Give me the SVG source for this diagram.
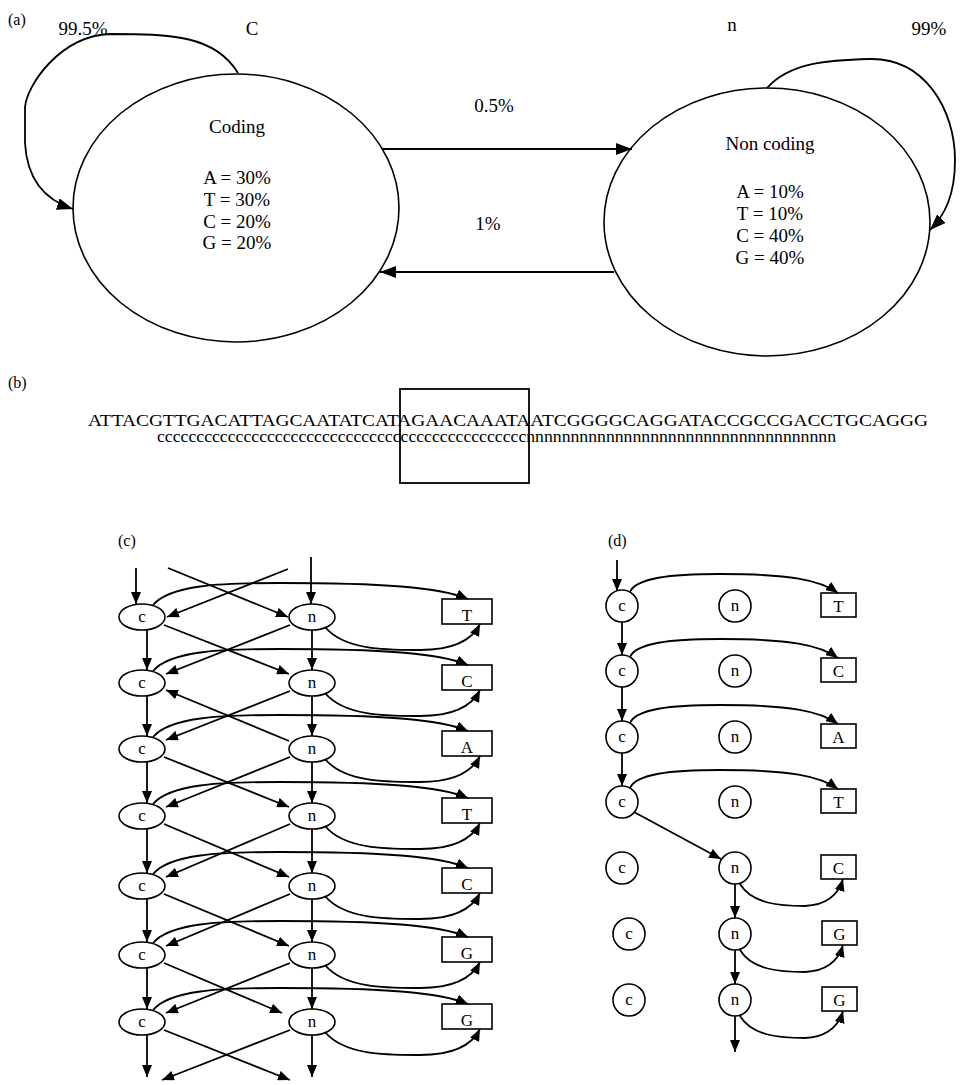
<svg xmlns="http://www.w3.org/2000/svg" width="960" height="1085" viewBox="0 0 960 1085">
<defs>
<style>
text{font-family:"Liberation Serif","Times New Roman",serif;fill:#000}
.lb{font-size:16px}
.t{font-size:19px;text-anchor:middle}
.s{font-size:17px;text-anchor:middle}
.nd{fill:#fff;stroke:#000;stroke-width:1.6}
.ln{fill:none;stroke:#000;stroke-width:1.8}
.la{marker-end:url(#A)}
.ca{marker-end:url(#a)}
</style>
<marker id="A" viewBox="0 0 16 12" refX="16" refY="6" markerWidth="16" markerHeight="12" markerUnits="userSpaceOnUse" orient="auto"><path d="M0,0L16,6L0,12z"/></marker>
<marker id="a" viewBox="0 0 12 10" refX="12" refY="5" markerWidth="12" markerHeight="10" markerUnits="userSpaceOnUse" orient="auto"><path d="M0,0L12,5L0,10z"/></marker>
</defs>
<rect width="960" height="1085" fill="#fff"/>

<!-- Part (a) -->
<text class="lb" x="8" y="25">(a)</text>
<g id="a-coding">
<ellipse class="nd" cx="236" cy="208" rx="163" ry="134"/>
<text class="t" x="237" y="133">Coding</text>
<text class="t" x="237" y="184">A = 30%</text>
<text class="t" x="237" y="206">T = 30%</text>
<text class="t" x="237" y="228">C = 20%</text>
<text class="t" x="237" y="249">G = 20%</text>
</g>
<g id="a-noncoding">
<ellipse class="nd" cx="767" cy="222" rx="163" ry="134"/>
<text class="t" x="770" y="150">Non coding</text>
<text class="t" x="770" y="198">A = 10%</text>
<text class="t" x="770" y="220">T = 10%</text>
<text class="t" x="770" y="242">C = 40%</text>
<text class="t" x="770" y="264">G = 40%</text>
</g>
<g id="a-connectors">
<path class="ln la" d="M238,73 C215,35 170,34 110,34 C60,36 27,85 25,107 L25,143 C27,180 45,200 73,209"/>
<path class="ln la" d="M767,88 C790,62 830,60 870,59 C925,58 955,110 955,160 C955,195 945,215 930,230"/>
<path class="ln la" d="M382,149 L632,149"/>
<path class="ln la" d="M614,272 L380,272"/>
</g>
<g id="a-labels">
<text class="t" x="83" y="35">99.5%</text>
<text class="t" x="252" y="35">C</text>
<text class="t" x="732" y="31">n</text>
<text class="t" x="929" y="35">99%</text>
<text class="t" x="494" y="112">0.5%</text>
<text class="t" x="488" y="230">1%</text>
</g>

<!-- Part (b) -->
<text class="lb" x="8" y="388">(b)</text>
<g id="b-sequence">
<text x="88" y="426" font-size="16" textLength="840" lengthAdjust="spacingAndGlyphs">ATTACGTTGACATTAGCAATATCATAGAACAAATAATCGGGGCAGGATACCGCCGACCTGCAGGG</text>
<text x="157" y="442" font-size="16" textLength="679" lengthAdjust="spacingAndGlyphs">cccccccccccccccccccccccccccccccccccccccccccccccnnnnnnnnnnnnnnnnnnnnnnnnnnnnnnnnnnn</text>
<rect x="400" y="389" width="129" height="94" fill="none" stroke="#000" stroke-width="1.8"/>
</g>

<!-- Part (c) -->
<text class="lb" x="118" y="546">(c)</text>
<g id="c-nodes">
<g id="c-c1"><ellipse class="nd" cx="142" cy="617" rx="23" ry="13"/><text class="s" x="142" y="622">c</text></g>
<g id="c-c2"><ellipse class="nd" cx="142" cy="683" rx="23" ry="13"/><text class="s" x="142" y="688">c</text></g>
<g id="c-c3"><ellipse class="nd" cx="142" cy="749" rx="23" ry="13"/><text class="s" x="142" y="754">c</text></g>
<g id="c-c4"><ellipse class="nd" cx="142" cy="816" rx="23" ry="13"/><text class="s" x="142" y="821">c</text></g>
<g id="c-c5"><ellipse class="nd" cx="142" cy="886" rx="23" ry="13"/><text class="s" x="142" y="891">c</text></g>
<g id="c-c6"><ellipse class="nd" cx="142" cy="955" rx="23" ry="13"/><text class="s" x="142" y="960">c</text></g>
<g id="c-c7"><ellipse class="nd" cx="142" cy="1022" rx="23" ry="13"/><text class="s" x="142" y="1027">c</text></g>
<g id="c-n1"><ellipse class="nd" cx="312" cy="617" rx="23" ry="13"/><text class="s" x="312" y="622">n</text></g>
<g id="c-n2"><ellipse class="nd" cx="312" cy="683" rx="23" ry="13"/><text class="s" x="312" y="688">n</text></g>
<g id="c-n3"><ellipse class="nd" cx="312" cy="749" rx="23" ry="13"/><text class="s" x="312" y="754">n</text></g>
<g id="c-n4"><ellipse class="nd" cx="312" cy="816" rx="23" ry="13"/><text class="s" x="312" y="821">n</text></g>
<g id="c-n5"><ellipse class="nd" cx="312" cy="886" rx="23" ry="13"/><text class="s" x="312" y="891">n</text></g>
<g id="c-n6"><ellipse class="nd" cx="312" cy="955" rx="23" ry="13"/><text class="s" x="312" y="960">n</text></g>
<g id="c-n7"><ellipse class="nd" cx="312" cy="1022" rx="23" ry="13"/><text class="s" x="312" y="1027">n</text></g>
<g id="c-b1"><rect class="nd" x="442" y="599" width="50" height="25"/><text class="s" x="467" y="621">T</text></g>
<g id="c-b2"><rect class="nd" x="442" y="665" width="50" height="25"/><text class="s" x="467" y="687">C</text></g>
<g id="c-b3"><rect class="nd" x="442" y="731" width="50" height="25"/><text class="s" x="467" y="753">A</text></g>
<g id="c-b4"><rect class="nd" x="442" y="798" width="50" height="25"/><text class="s" x="467" y="820">T</text></g>
<g id="c-b5"><rect class="nd" x="442" y="868" width="50" height="25"/><text class="s" x="467" y="890">C</text></g>
<g id="c-b6"><rect class="nd" x="442" y="937" width="50" height="25"/><text class="s" x="467" y="959">G</text></g>
<g id="c-b7"><rect class="nd" x="442" y="1004" width="50" height="25"/><text class="s" x="467" y="1026">G</text></g>
</g>
<g id="c-connectors" class="ln">
<path class="ca" d="M136,568 L136,604"/>
<path class="ca" d="M311,557 L311,604"/>
<path class="ca" d="M168,568 L288,617"/>
<path class="ca" d="M288,569 L167,617"/>
<path class="ca" d="M147,630 L147,670"/><path class="ca" d="M147,696 L147,736"/><path class="ca" d="M147,762 L147,803"/><path class="ca" d="M147,829 L147,873"/><path class="ca" d="M147,899 L147,942"/><path class="ca" d="M147,968 L147,1009"/><path class="ca" d="M147,1035 L147,1077"/>
<path class="ca" d="M312,630 L312,670"/><path class="ca" d="M312,696 L312,736"/><path class="ca" d="M312,762 L312,803"/><path class="ca" d="M312,829 L312,873"/><path class="ca" d="M312,899 L312,942"/><path class="ca" d="M312,968 L312,1009"/><path class="ca" d="M312,1035 L312,1077"/>
<path class="ca" d="M164,625 L289,674"/><path class="ca" d="M290,625 L166,674"/>
<path class="ca" d="M290,691 L166,740"/><path class="ca" d="M289,741 L166,690"/>
<path class="ca" d="M164,757 L289,807"/><path class="ca" d="M290,757 L166,807"/>
<path class="ca" d="M164,824 L289,877"/><path class="ca" d="M290,824 L166,877"/>
<path class="ca" d="M164,894 L289,946"/><path class="ca" d="M290,894 L166,946"/>
<path class="ca" d="M164,963 L282,1013"/><path class="ca" d="M290,963 L166,1013"/>
<path class="ca" d="M164,1030 L290,1080"/><path class="ca" d="M290,1030 L162,1080"/>
<path class="ca" d="M153,605 C170,585 220,583 280,583 C380,583 440,587 468,599"/>
<path class="ca" d="M325,627 C345,651 390,650 420,650 C455,650 472,640 480,624"/>
<path class="ca" d="M153,671 C170,651 220,649 280,649 C380,649 440,653 468,665"/>
<path class="ca" d="M325,693 C345,717 390,716 420,716 C455,716 472,706 480,690"/>
<path class="ca" d="M153,737 C170,717 220,715 280,715 C380,715 440,719 468,731"/>
<path class="ca" d="M325,759 C345,783 390,782 420,782 C455,782 472,772 480,756"/>
<path class="ca" d="M153,804 C170,784 220,782 280,782 C380,782 440,786 468,798"/>
<path class="ca" d="M325,826 C345,850 390,849 420,849 C455,849 472,839 480,823"/>
<path class="ca" d="M153,874 C170,854 220,852 280,852 C380,852 440,856 468,868"/>
<path class="ca" d="M325,896 C345,920 390,919 420,919 C455,919 472,909 480,893"/>
<path class="ca" d="M153,943 C170,923 220,921 280,921 C380,921 440,925 468,937"/>
<path class="ca" d="M325,965 C345,989 390,988 420,988 C455,988 472,978 480,962"/>
<path class="ca" d="M153,1010 C170,990 220,988 280,988 C380,988 440,992 468,1004"/>
<path class="ca" d="M325,1032 C345,1056 390,1055 420,1055 C455,1055 472,1045 480,1029"/>
</g>

<!-- Part (d) -->
<text class="lb" x="608" y="546">(d)</text>
<g id="d-nodes">
<g id="d-c1"><circle class="nd" cx="622" cy="606" r="16"/><text class="s" x="622" y="611">c</text></g>
<g id="d-c2"><circle class="nd" cx="622" cy="671" r="16"/><text class="s" x="622" y="676">c</text></g>
<g id="d-c3"><circle class="nd" cx="622" cy="737" r="16"/><text class="s" x="622" y="742">c</text></g>
<g id="d-c4"><circle class="nd" cx="622" cy="802" r="16"/><text class="s" x="622" y="807">c</text></g>
<g id="d-c5"><circle class="nd" cx="622" cy="868" r="16"/><text class="s" x="622" y="873">c</text></g>
<g id="d-c6"><circle class="nd" cx="629" cy="934" r="16"/><text class="s" x="629" y="939">c</text></g>
<g id="d-c7"><circle class="nd" cx="629" cy="1000" r="16"/><text class="s" x="629" y="1005">c</text></g>
<g id="d-n1"><circle class="nd" cx="735" cy="606" r="16"/><text class="s" x="735" y="611">n</text></g>
<g id="d-n2"><circle class="nd" cx="735" cy="671" r="16"/><text class="s" x="735" y="676">n</text></g>
<g id="d-n3"><circle class="nd" cx="735" cy="737" r="16"/><text class="s" x="735" y="742">n</text></g>
<g id="d-n4"><circle class="nd" cx="735" cy="802" r="16"/><text class="s" x="735" y="807">n</text></g>
<g id="d-n5"><circle class="nd" cx="735" cy="868" r="16"/><text class="s" x="735" y="873">n</text></g>
<g id="d-n6"><circle class="nd" cx="735" cy="934" r="16"/><text class="s" x="735" y="939">n</text></g>
<g id="d-n7"><circle class="nd" cx="735" cy="1000" r="16"/><text class="s" x="735" y="1005">n</text></g>
<g id="d-b1"><rect class="nd" x="821" y="593" width="35" height="24"/><text class="s" x="838.5" y="612">T</text></g>
<g id="d-b2"><rect class="nd" x="821" y="658" width="35" height="24"/><text class="s" x="838.5" y="677">C</text></g>
<g id="d-b3"><rect class="nd" x="821" y="724" width="35" height="24"/><text class="s" x="838.5" y="743">A</text></g>
<g id="d-b4"><rect class="nd" x="821" y="789" width="35" height="24"/><text class="s" x="838.5" y="808">T</text></g>
<g id="d-b5"><rect class="nd" x="821" y="855" width="35" height="24"/><text class="s" x="838.5" y="874">C</text></g>
<g id="d-b6"><rect class="nd" x="822" y="921" width="35" height="24"/><text class="s" x="839.5" y="940">G</text></g>
<g id="d-b7"><rect class="nd" x="822" y="987" width="35" height="24"/><text class="s" x="839.5" y="1006">G</text></g>
</g>
<g id="d-connectors" class="ln">
<path class="ca" d="M617,560 L617,591"/>
<path class="ca" d="M622,622 L622,655"/><path class="ca" d="M622,687 L622,721"/><path class="ca" d="M622,753 L622,786"/>
<path class="ca" d="M634,812 L721,859"/>
<path class="ca" d="M735,884 L735,918"/><path class="ca" d="M735,950 L735,984"/><path class="ca" d="M735,1016 L735,1052"/>
<path class="ca" d="M630,592 C636,578 670,574 720,574 C790,574 820,580 838,593"/>
<path class="ca" d="M630,657 C636,643 670,639 720,639 C790,639 820,645 838,658"/>
<path class="ca" d="M630,723 C636,709 670,705 720,705 C790,705 820,711 838,724"/>
<path class="ca" d="M630,788 C636,774 670,770 720,770 C790,770 820,776 838,789"/>
<path class="ca" d="M740,884 C752,904 780,906 805,906 C825,905 838,896 843,879"/>
<path class="ca" d="M740,950 C752,970 780,972 805,972 C825,971 838,962 843,945"/>
<path class="ca" d="M740,1016 C752,1036 780,1038 805,1038 C825,1037 838,1028 843,1011"/>
</g>
</svg>
